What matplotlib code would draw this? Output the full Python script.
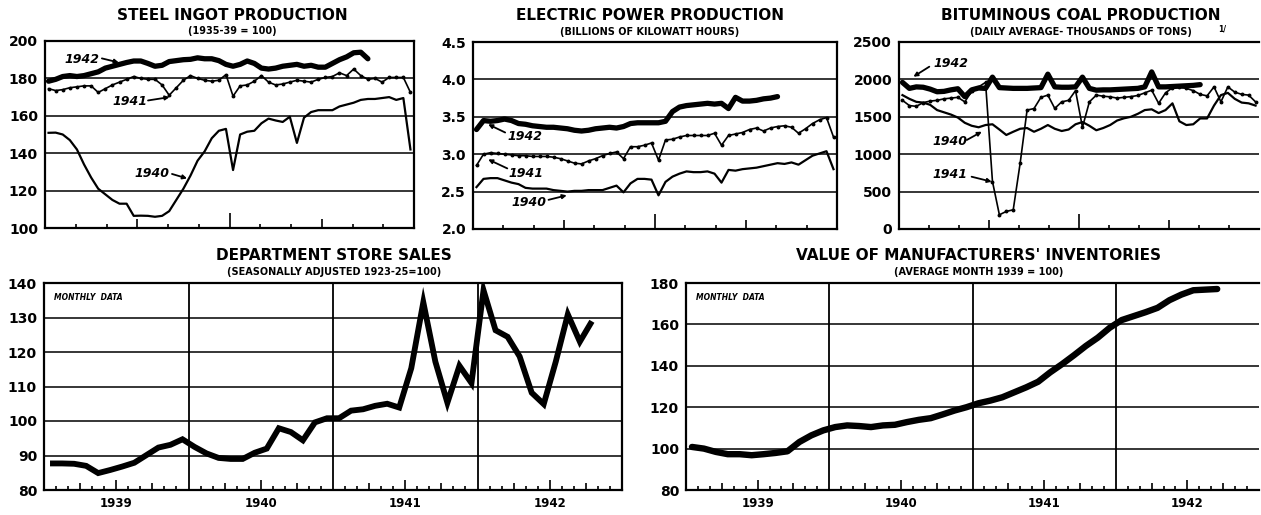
import matplotlib
matplotlib.use('Agg')
import matplotlib.pyplot as plt
import numpy as np

# ---------------- data ----------------
steel_1940 = [150.9, 151, 150, 147, 142, 134, 127, 121, 118, 115,
              113, 113, 106.5, 106.6, 106.5, 106, 106.5, 109, 115, 121,
              128, 136, 141, 148, 152, 153, 131, 150, 151.5, 152,
              156, 158.5, 157.5, 156.7, 159.5, 145.5, 159, 162, 163, 163,
              163, 165, 166, 167, 168.5, 169, 169, 169.5, 170, 168.5,
              169.5, 142]
steel_1941 = [174.5, 173.5, 174, 175, 175.5, 176, 176, 172.5, 174.5, 176.5,
              178, 179.5, 181, 180, 179.5, 179.5, 176.5, 171, 175, 179,
              181.5, 180, 179, 178.5, 179, 182, 170.5, 176, 176.5, 178.5,
              181.5, 178, 176.5, 177, 178, 179, 178.5, 178, 179.5, 180.5,
              181, 183, 181.5, 185, 181.5, 179.5, 180, 178, 180.5, 180.5,
              180.5, 172.5]
steel_1942 = [178.5, 179.5, 181, 181.5, 181, 181.5, 182.5, 183.5, 185.5, 186.5,
              187.5, 188.5, 189.3, 189.3, 188, 186.5, 187, 189, 189.5, 190,
              190.2, 191, 190.5, 190.5, 189.5, 187.5, 186.5, 187.5, 189.3, 188,
              185.5, 185, 185.5, 186.5, 187, 187.5, 186.5, 187, 186, 186,
              188, 190, 191.5, 193.7, 194, 190.5]

elec_1940 = [2.56, 2.67, 2.68, 2.68, 2.65, 2.62, 2.60, 2.55, 2.54, 2.54,
             2.54, 2.52, 2.51, 2.50, 2.51, 2.51, 2.52, 2.52, 2.52, 2.55,
             2.58, 2.49, 2.61, 2.67, 2.67, 2.66, 2.45, 2.63, 2.70, 2.74,
             2.77, 2.76, 2.76, 2.77, 2.74, 2.62, 2.79, 2.78, 2.80, 2.81,
             2.82, 2.84, 2.86, 2.88, 2.87, 2.89, 2.86, 2.92, 2.98, 3.01,
             3.04, 2.80]
elec_1941 = [2.85, 3.00, 3.02, 3.01, 3.00, 2.99, 2.98, 2.98, 2.97, 2.97,
             2.97, 2.96, 2.94, 2.91, 2.88, 2.87, 2.91, 2.94, 2.98, 3.01,
             3.03, 2.94, 3.10, 3.10, 3.12, 3.15, 2.92, 3.19, 3.20, 3.23,
             3.25, 3.25, 3.25, 3.25, 3.28, 3.12, 3.25, 3.27, 3.29, 3.33,
             3.35, 3.31, 3.35, 3.37, 3.38, 3.36, 3.28, 3.34, 3.41, 3.46,
             3.49, 3.23]
elec_1942 = [3.33, 3.45, 3.44, 3.45, 3.47, 3.45, 3.41, 3.40, 3.38, 3.37,
             3.36, 3.36, 3.35, 3.34, 3.32, 3.31, 3.32, 3.34, 3.35, 3.36,
             3.35, 3.37, 3.41, 3.42, 3.42, 3.42, 3.42, 3.44, 3.57, 3.63,
             3.65, 3.66, 3.67, 3.68, 3.67, 3.68, 3.61, 3.76, 3.71, 3.71,
             3.72, 3.74, 3.75, 3.77]

coal_1940 = [1790, 1740, 1700, 1690, 1660, 1590, 1560, 1530, 1490, 1420,
             1380, 1360, 1390, 1400, 1330, 1257, 1300, 1340, 1350, 1300,
             1340, 1390, 1340, 1310, 1330, 1400, 1430, 1380, 1320, 1350,
             1390, 1450, 1480, 1500, 1540, 1590, 1600, 1550, 1590, 1680,
             1440, 1390, 1400, 1478, 1478, 1650, 1790, 1820, 1740, 1690,
             1680, 1650]
coal_1941 = [1720, 1650, 1640, 1690, 1710, 1720, 1740, 1750, 1760, 1700,
             1840, 1900, 1960, 635, 190, 235, 257, 880, 1590, 1610,
             1760, 1790, 1612, 1700, 1720, 1850, 1360, 1700, 1790, 1775,
             1767, 1750, 1760, 1770, 1785, 1820, 1856, 1680, 1820, 1890,
             1895, 1880, 1850, 1800, 1780, 1900, 1700, 1900, 1830, 1800,
             1790, 1700]
coal_1942 = [1960, 1880, 1900, 1895, 1870, 1835, 1840, 1860, 1875, 1770,
             1860, 1885, 1880, 2030, 1890, 1885, 1880, 1880, 1880, 1885,
             1890, 2070, 1900, 1895, 1895, 1900, 2030, 1880, 1856, 1860,
             1860, 1865, 1870, 1875, 1880, 1900, 2100, 1900, 1900, 1905,
             1910, 1915, 1920, 1930]

dept_sales = [87.7, 87.7, 87.6, 87.0, 84.9, 85.8, 86.8, 87.9, 90.1, 92.3,
              93.1, 94.7, 92.5, 90.6, 89.3, 89.0, 89.0, 90.8, 92.0, 97.9,
              96.8, 94.4, 99.6, 100.8, 100.8, 103.0, 103.4, 104.4, 105.0, 103.9,
              115.3, 134.4, 117.2, 105.3, 116.0, 111.0, 137.9, 126.3, 124.4, 118.7,
              108.2, 104.9, 117.2, 130.9, 123.0, 128.9]
inventories = [100.8, 100.0, 98.4, 97.3, 97.3, 96.8, 97.3, 97.9, 98.7, 103.2,
               106.4, 108.8, 110.4, 111.2, 110.9, 110.4, 111.2, 111.5, 112.8, 113.9,
               114.7, 116.5, 118.4, 120.0, 121.9, 123.2, 124.8, 127.2, 129.6, 132.3,
               136.8, 140.8, 145.1, 149.6, 153.6, 158.4, 162.1, 164.0, 165.9, 168.0,
               171.7, 174.4, 176.5, 176.8, 177.1]

years = ['1939', '1940', '1941', '1942']
series_years = ['1940', '1941', '1942']

steel_ticks = [100, 120, 140, 160, 180, 200]
elec_ticks = [2.0, 2.5, 3.0, 3.5, 4.0, 4.5]
coal_ticks = [0, 500, 1000, 1500, 2000, 2500]
dept_ticks = [80, 90, 100, 110, 120, 130, 140]
inv_ticks = [80, 100, 120, 140, 160, 180]

# ---------------- figure ----------------
W, H = 1261, 515
fig = plt.figure(figsize=(W / 100, H / 100), dpi=100)
fig.patch.set_facecolor('white')
FONT = 'DejaVu Sans'


def axbox(l, t, r, b):
    return fig.add_axes([l / W, 1 - b / H, (r - l) / W, (b - t) / H])


def px2pt(p):
    return p * 0.72


def weeks(n):
    return (np.arange(n) + 0.5) / 52.0 * 12.0


def style_common(ax, yticks, fmt):
    ax.set_yticks(yticks)
    ax.set_yticklabels([fmt(v) for v in yticks], fontweight='bold',
                       fontsize=10, family=FONT)
    ax.tick_params(axis='y', length=0, pad=5)
    for s in ax.spines.values():
        s.set_linewidth(1.6)
        s.set_color('black')
    for y in yticks[1:-1]:
        ax.axhline(y, color='black', lw=1.1, zorder=1)


def style_top(ax, yticks, fmt):
    ax.set_xlim(0, 12)
    ax.set_ylim(yticks[0], yticks[-1])
    style_common(ax, yticks, fmt)
    ax.set_xticks(range(1, 12))
    ax.set_xticklabels([])
    ax.tick_params(axis='x', direction='in', width=1.2)
    for m, t in zip(range(1, 12), ax.xaxis.get_major_ticks()):
        L = 15 if m == 6 else (9 if m in (3, 9) else 4)
        t.tick1line.set_markersize(px2pt(L))
        t.tick2line.set_visible(False)


def style_bottom(ax, yticks):
    ax.set_xlim(0, 48)
    ax.set_ylim(yticks[0], yticks[-1])
    style_common(ax, yticks, lambda v: f'{v:d}')
    mts = [m for m in range(1, 48) if m % 12 != 0]
    ax.set_xticks(mts)
    ax.set_xticklabels([])
    ax.tick_params(axis='x', direction='in', width=1.2)
    for m, t in zip(mts, ax.xaxis.get_major_ticks()):
        r = m % 12
        L = 10 if r == 6 else (7 if r in (3, 9) else 4)
        t.tick1line.set_markersize(px2pt(L))
        t.tick2line.set_visible(False)
    for b in (12, 24, 36):
        ax.axvline(b, color='black', lw=1.3, zorder=1)
    for k, yl in enumerate(years):
        ax.annotate(yl, xy=(k * 12 + 6, 0), xycoords=('data', 'axes fraction'),
                    xytext=(0, -10), textcoords='offset points',
                    ha='center', va='center', fontsize=8.5, fontweight='bold',
                    family=FONT)
    ax.text(0.018, 0.93, 'MONTHLY  DATA', transform=ax.transAxes, fontsize=5.5,
            fontweight='bold', style='italic', family=FONT, va='center', ha='left')


def plot_years(ax, d40, d41, d42):
    ax.plot(weeks(len(d40)), d40, color='black', lw=1.6, zorder=3,
            solid_joinstyle='round')
    ax.plot(weeks(len(d41)), d41, color='black', lw=1.2, marker='o', ms=1.8,
            zorder=3)
    ax.plot(weeks(len(d42)), d42, color='black', lw=3.8, zorder=4,
            solid_joinstyle='round', solid_capstyle='round')


def label(ax, text, txy, tail, head):
    ax.text(txy[0], txy[1], text, ha='center', va='center', fontsize=9,
            fontweight='bold', style='italic', family=FONT, zorder=6)
    ax.annotate('', xy=head, xytext=tail,
                arrowprops=dict(arrowstyle='-|>', color='black', lw=1.3,
                                mutation_scale=6, shrinkA=0, shrinkB=0), zorder=6)


def title(x, y, big, small, ysmall):
    fig.text(x / W, 1 - y / H, big, ha='center', va='center', fontsize=11,
             fontweight='bold', family=FONT)
    fig.text(x / W, 1 - ysmall / H, small, ha='center', va='center', fontsize=7,
             fontweight='bold', family=FONT)


# ---- Steel ----
ax1 = axbox(45, 41, 414, 228)
style_top(ax1, steel_ticks, lambda v: f'{v:d}')
plot_years(ax1, steel_1940, steel_1941, steel_1942)
label(ax1, series_years[2], (1.2, 190.1), (1.85, 190.7), (2.4, 188.5))
label(ax1, series_years[1], (2.76, 167.4), (3.35, 168.2), (4.05, 170.0))
label(ax1, series_years[0], (3.48, 129.4), (4.13, 128.9), (4.62, 126.5))
title(232, 15, 'STEEL INGOT PRODUCTION', '(1935-39 = 100)', 31)

# ---- Electric power ----
ax2 = axbox(473, 42, 837, 229)
style_top(ax2, elec_ticks, lambda v: f'{v:.1f}')
plot_years(ax2, elec_1940, elec_1941, elec_1942)
label(ax2, series_years[2], (1.72, 3.23), (1.06, 3.29), (0.5, 3.40))
label(ax2, series_years[1], (1.75, 2.74), (1.13, 2.81), (0.5, 2.93))
label(ax2, series_years[0], (1.86, 2.35), (2.49, 2.39), (3.09, 2.45))
title(650, 16, 'ELECTRIC POWER PRODUCTION', '(BILLIONS OF KILOWATT HOURS)', 32)

# ---- Coal ----
ax3 = axbox(899, 42, 1259, 229)
style_top(ax3, coal_ticks, lambda v: f'{v:d}')
ax3.spines['right'].set_visible(False)
plot_years(ax3, coal_1940, coal_1941, coal_1942)
label(ax3, series_years[2], (1.72, 2215), (1.01, 2170), (0.48, 2036))
label(ax3, series_years[0], (1.70, 1167), (2.26, 1190), (2.76, 1301))
label(ax3, series_years[1], (1.70, 722), (2.42, 699), (3.09, 632))
title(1081, 16, 'BITUMINOUS COAL PRODUCTION',
      '(DAILY AVERAGE- THOUSANDS OF TONS)', 32)
fig.text(1222 / W, 1 - 29 / H, '1/', fontsize=5.5, fontweight='bold',
         family=FONT, ha='center', va='center')

# ---- Department store sales ----
ax4 = axbox(44, 283, 622, 490)
style_bottom(ax4, dept_ticks)
ax4.plot(np.arange(len(dept_sales)) + 0.5, dept_sales, color='black', lw=4.2,
         solid_joinstyle='miter', solid_capstyle='butt', zorder=4)
title(334, 256, 'DEPARTMENT STORE SALES', '(SEASONALLY ADJUSTED 1923-25=100)', 272)

# ---- Manufacturers' inventories ----
ax5 = axbox(686, 283, 1259, 490)
style_bottom(ax5, inv_ticks)
ax5.spines['right'].set_visible(False)
ax5.plot(np.arange(len(inventories)) + 0.5, inventories, color='black', lw=4.6,
         solid_joinstyle='round', solid_capstyle='round', zorder=4)
title(979, 256, "VALUE OF MANUFACTURERS' INVENTORIES",
      '(AVERAGE MONTH 1939 = 100)', 272)

fig.savefig('out.png', dpi=100, facecolor='white')
